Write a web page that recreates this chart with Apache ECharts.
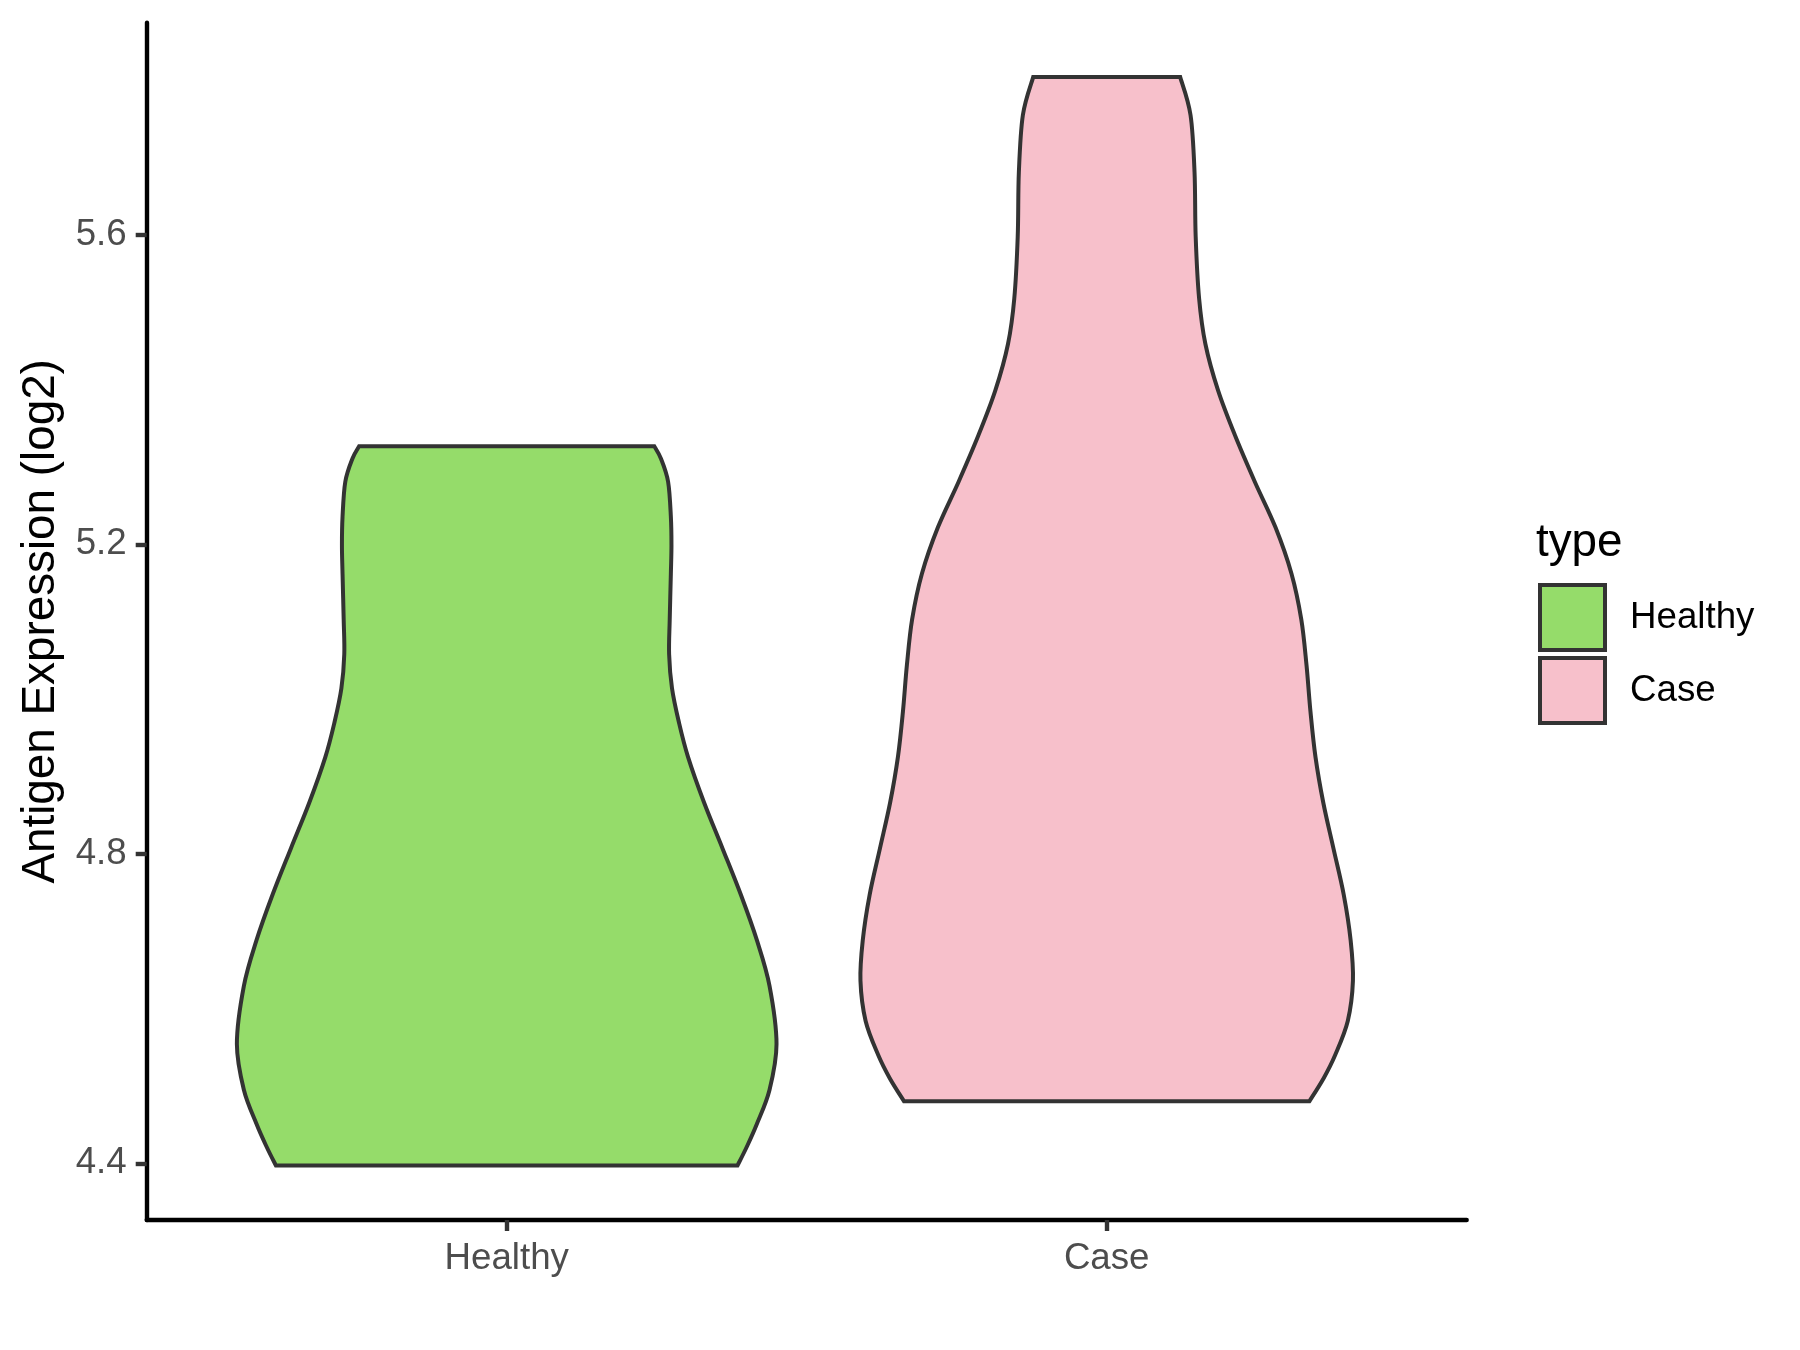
<!DOCTYPE html>
<html>
<head>
<meta charset="utf-8">
<script src="https://cdn.jsdelivr.net/npm/echarts@6/dist/echarts.min.js"></script>
<style>
  html, body { margin: 0; padding: 0; background: #ffffff; }
  #chart { width: 1800px; height: 1350px; }
</style>
</head>
<body>
<div id="chart"></div>
<script>
// ---- Data ----
const categories = ['Healthy', 'Case'];
const yTickValues = [4.4, 4.8, 5.2, 5.6];

// Violin outlines: expression value (log2) and half-width (in category units)
const healthyY = [4.397, 4.421, 4.451, 4.495, 4.554, 4.629, 4.688, 4.747, 4.807, 4.866, 4.925, 4.970, 5.014, 5.058, 5.103, 5.162, 5.199, 5.236, 5.281, 5.311, 5.327];
const healthyHalfWidth = [0.3846, 0.4000, 0.4171, 0.4381, 0.4497, 0.4381, 0.4171, 0.3903, 0.3597, 0.3291, 0.3023, 0.2870, 0.2755, 0.2707, 0.2717, 0.2736, 0.2746, 0.2736, 0.2690, 0.2570, 0.2459];

const caseY = [4.480, 4.510, 4.540, 4.584, 4.636, 4.688, 4.747, 4.807, 4.866, 4.925, 4.984, 5.044, 5.103, 5.162, 5.222, 5.281, 5.340, 5.399, 5.459, 5.518, 5.598, 5.681, 5.755, 5.804];
const caseHalfWidth = [0.3377, 0.3616, 0.3808, 0.4018, 0.4104, 0.4066, 0.3951, 0.3779, 0.3610, 0.3480, 0.3396, 0.3330, 0.3243, 0.3080, 0.2813, 0.2468, 0.2143, 0.1856, 0.1645, 0.1540, 0.1483, 0.1464, 0.1397, 0.1225];

const fillColors = ['#95DC6A', '#F7C0CB'];
const outlineColor = '#333333';

// ---- Axis range like ggplot (5% expansion) ----
const allY = healthyY.concat(caseY);
const dMin = Math.min.apply(null, allY), dMax = Math.max.apply(null, allY);
const yMin = dMin - 0.05 * (dMax - dMin);
const yMax = dMax + 0.05 * (dMax - dMin);

function catmullPath(pts) {
  let d = '';
  for (let i = 0; i < pts.length - 1; i++) {
    const p0 = pts[Math.max(i - 1, 0)], p1 = pts[i], p2 = pts[i + 1], p3 = pts[Math.min(i + 2, pts.length - 1)];
    const c1 = [p1[0] + (p2[0] - p0[0]) / 6, p1[1] + (p2[1] - p0[1]) / 6];
    const c2 = [p2[0] - (p3[0] - p1[0]) / 6, p2[1] - (p3[1] - p1[1]) / 6];
    d += ' C' + c1[0].toFixed(2) + ',' + c1[1].toFixed(2) + ' ' + c2[0].toFixed(2) + ',' + c2[1].toFixed(2) + ' ' + p2[0].toFixed(2) + ',' + p2[1].toFixed(2);
  }
  return d;
}

function makeRender(ys, hws, color) {
  return function (params, api) {
    const cx = api.value(0);
    const right = ys.map((y, i) => api.coord([cx + hws[i], y]));
    const left = ys.map((y, i) => api.coord([cx - hws[i], y])).reverse();
    const d = 'M' + right[0][0].toFixed(2) + ',' + right[0][1].toFixed(2) + catmullPath(right) +
      ' L' + left[0][0].toFixed(2) + ',' + left[0][1].toFixed(2) + catmullPath(left) + ' Z';
    return {
      type: 'path',
      shape: { pathData: d },
      style: { fill: color, stroke: outlineColor, lineWidth: 4, lineJoin: 'miter' }
    };
  };
}

const FONT = '"Liberation Sans", Arial, Helvetica, sans-serif';

const chart = echarts.init(document.getElementById('chart'), null, { renderer: 'canvas' });
chart.setOption({
  backgroundColor: '#ffffff',
  animation: false,
  textStyle: { fontFamily: FONT },
  title: {
    text: 'type',
    left: 1536,
    top: 520,
    padding: 0,
    textStyle: { fontFamily: FONT, fontSize: 45.8, fontWeight: 'normal', color: '#000000' }
  },
  legend: {
    orient: 'vertical',
    left: 1538,
    top: 583,
    padding: 0,
    itemWidth: 65,
    itemHeight: 65,
    itemGap: 4,
    icon: 'rect',
    data: [
      { name: 'Healthy', itemStyle: { color: fillColors[0], borderColor: outlineColor, borderWidth: 4 } },
      { name: 'Case', itemStyle: { color: fillColors[1], borderColor: outlineColor, borderWidth: 4 } }
    ],
    textStyle: { fontFamily: FONT, fontSize: 36.7, color: '#000000', padding: [0, 0, 0, 20] }
  },
  grid: { left: 146.7, right: 333.3, top: 22.7, bottom: 130 },
  xAxis: {
    type: 'value',
    min: 0.4,
    max: 2.6,
    splitLine: { show: false },
    axisLine: { show: true, onZero: false, lineStyle: { color: '#000000', width: 4.4 } },
    axisTick: { show: true, customValues: [1, 2], length: 11, lineStyle: { color: '#333333', width: 4.4 } },
    axisLabel: {
      customValues: [1, 2],
      formatter: v => categories[Math.round(v) - 1],
      margin: 20,
      fontFamily: FONT,
      fontSize: 36.7,
      color: '#4D4D4D'
    }
  },
  yAxis: {
    type: 'value',
    min: yMin,
    max: yMax,
    name: 'Antigen Expression (log2)',
    nameLocation: 'middle',
    nameGap: 82,
    nameTextStyle: { fontFamily: FONT, fontSize: 45.8, color: '#000000' },
    splitLine: { show: false },
    axisLine: { show: true, onZero: false, lineStyle: { color: '#000000', width: 4.4 } },
    axisTick: { show: true, customValues: yTickValues, length: 11, lineStyle: { color: '#333333', width: 4.4 } },
    axisLabel: {
      customValues: yTickValues,
      formatter: v => Number(v).toFixed(1),
      margin: 20,
      fontFamily: FONT,
      fontSize: 36.7,
      color: '#4D4D4D'
    }
  },
  series: [
    {
      name: 'Healthy',
      type: 'custom',
      renderItem: makeRender(healthyY, healthyHalfWidth, fillColors[0]),
      itemStyle: { color: fillColors[0] },
      data: [[1]],
      encode: { x: 0 },
      clip: false
    },
    {
      name: 'Case',
      type: 'custom',
      renderItem: makeRender(caseY, caseHalfWidth, fillColors[1]),
      itemStyle: { color: fillColors[1] },
      data: [[2]],
      encode: { x: 0 },
      clip: false
    }
  ]
});
</script>
</body>
</html>
